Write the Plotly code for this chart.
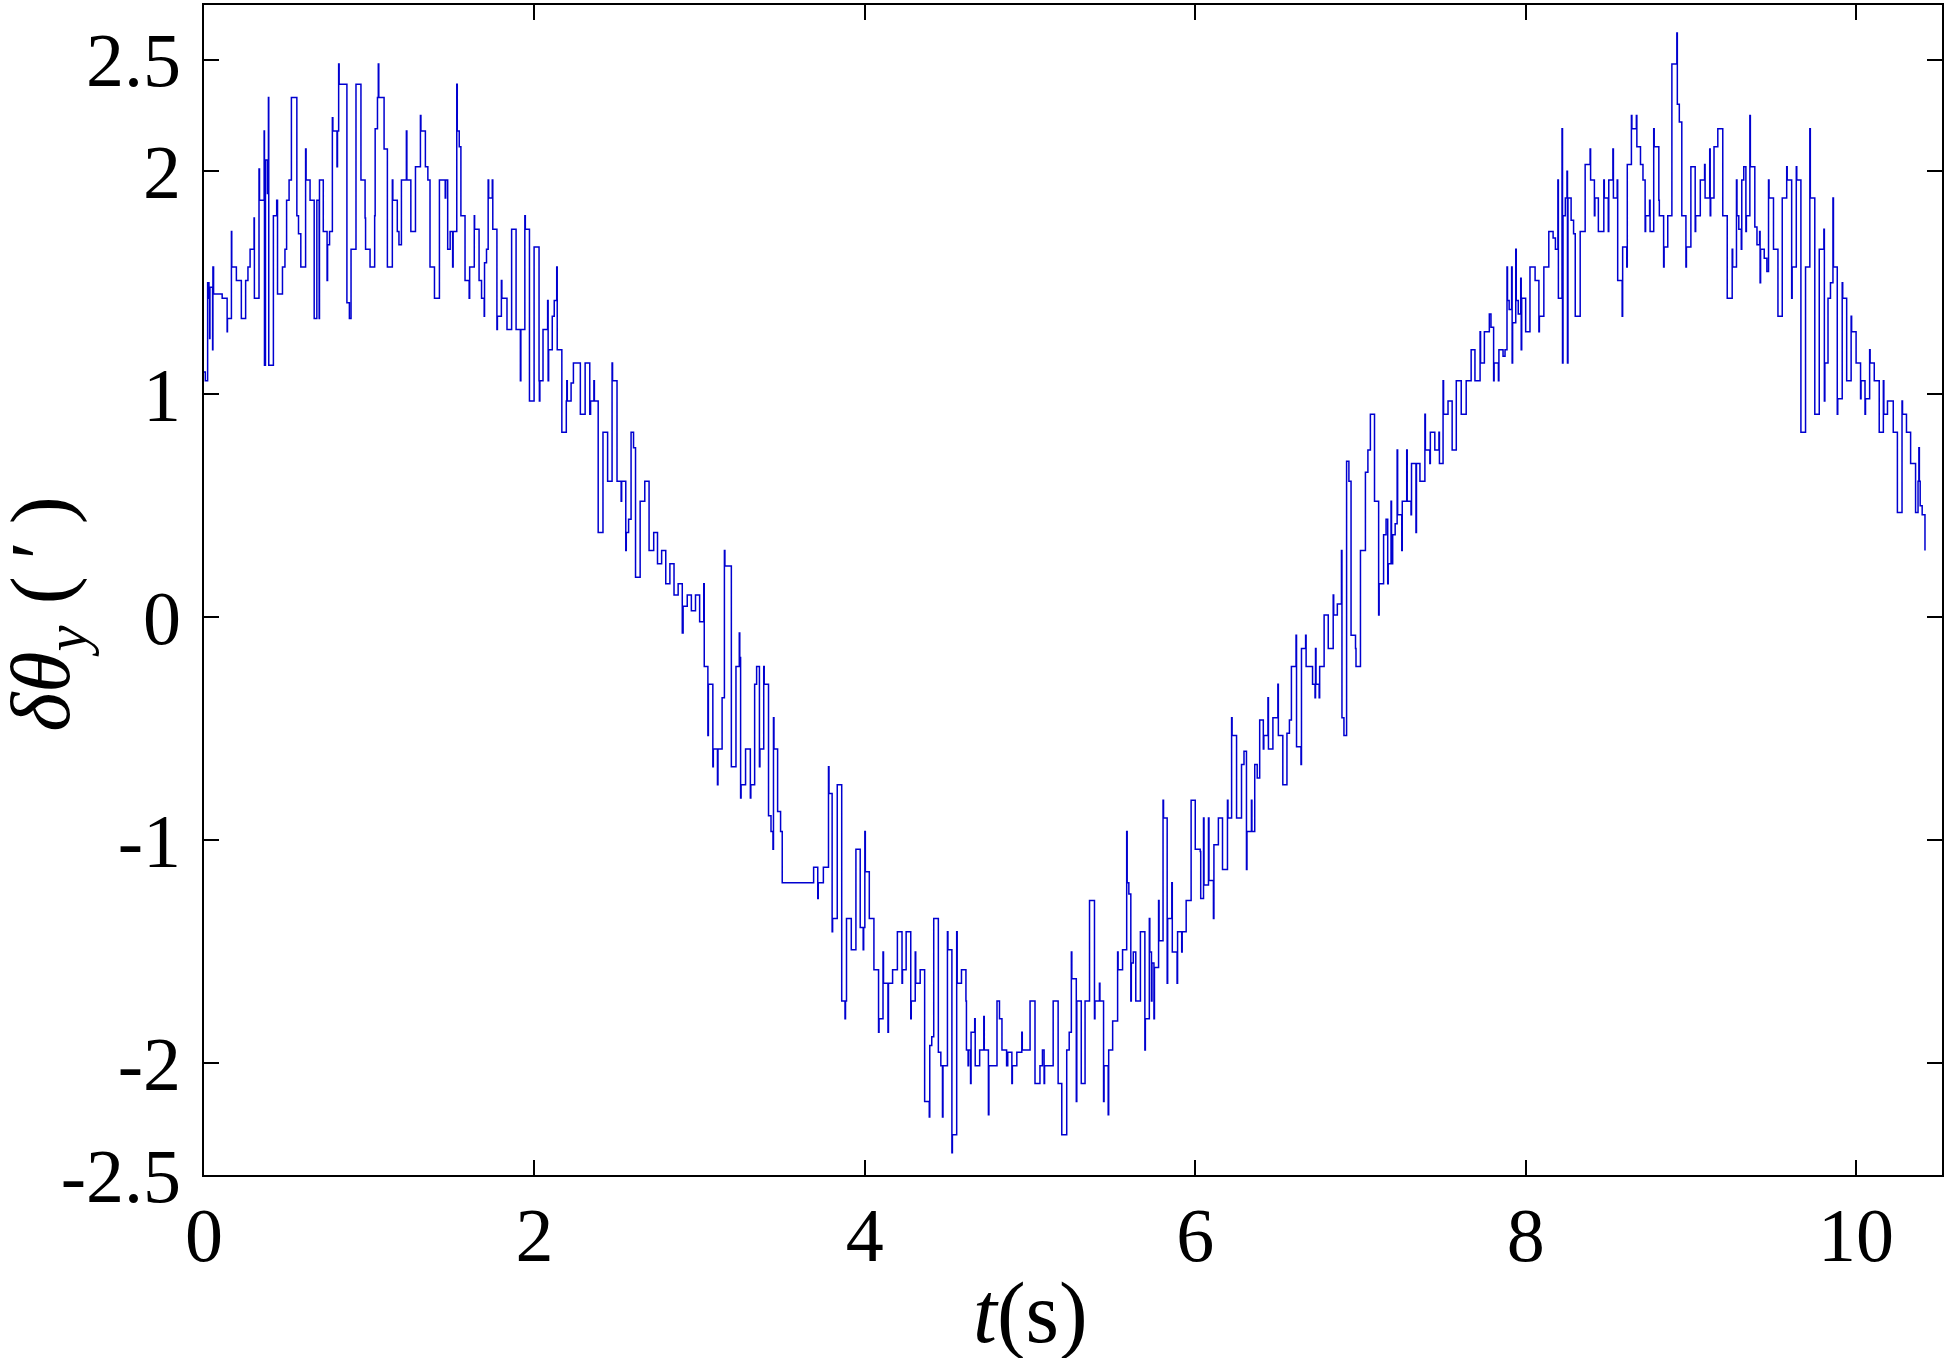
import plotly.graph_objects as go

# Samples: [time (s), delta theta_y (arcmin)], held until the next sample
seg_0_155 = [
    [0.000, 1.10], [0.008, 1.06], [0.022, 1.50], [0.030, 1.43], [0.034, 1.25], [0.036, 1.48],
    [0.052, 1.20], [0.054, 1.57], [0.058, 1.45], [0.110, 1.43], [0.140, 1.28], [0.142, 1.34],
    [0.166, 1.73], [0.168, 1.57], [0.196, 1.51], [0.226, 1.34], [0.252, 1.51], [0.266, 1.57],
    [0.279, 1.65], [0.303, 1.79], [0.305, 1.43], [0.333, 2.01], [0.336, 1.87], [0.364, 2.18],
    [0.366, 1.13], [0.372, 2.05], [0.384, 1.90], [0.390, 2.33], [0.392, 1.13], [0.420, 1.80],
    [0.440, 1.87], [0.445, 1.45], [0.475, 1.57], [0.490, 1.65], [0.500, 1.87], [0.515, 1.96],
    [0.529, 2.33], [0.562, 1.80], [0.572, 1.72], [0.586, 1.57], [0.615, 2.10], [0.618, 1.96],
    [0.642, 1.87], [0.667, 1.34], [0.683, 1.87], [0.697, 1.34], [0.699, 1.96], [0.722, 1.73],
    [0.745, 1.51], [0.748, 1.67], [0.760, 1.73], [0.777, 2.24], [0.780, 2.18], [0.805, 2.02],
    [0.808, 2.18], [0.815, 2.48], [0.818, 2.39], [0.865, 1.41], [0.880, 1.34], [0.890, 1.65],
    [0.920, 2.39], [0.950, 1.96], [0.975, 1.79], [0.978, 1.65], [1.005, 1.57], [1.033, 1.80],
    [1.036, 2.19], [1.050, 2.33], [1.055, 2.48], [1.058, 2.33], [1.090, 2.10], [1.110, 1.57],
    [1.140, 1.96], [1.143, 1.87], [1.170, 1.73], [1.180, 1.67], [1.195, 1.96], [1.225, 2.18],
    [1.228, 1.96], [1.252, 1.73], [1.280, 2.02], [1.310, 2.25], [1.313, 2.18], [1.340, 2.02],
    [1.355, 1.96], [1.368, 1.57], [1.395, 1.43], [1.425, 1.96], [1.460, 1.88], [1.463, 1.96],
    [1.475, 1.65], [1.490, 1.73], [1.505, 1.57], [1.508, 1.73], [1.530, 2.39], [1.533, 2.18],
    [1.545, 2.11], [1.555, 1.80],
]

seg_155_300 = [
    [1.580, 1.51], [1.605, 1.43], [1.608, 1.57], [1.636, 1.80], [1.638, 1.74], [1.665, 1.51],
    [1.680, 1.43], [1.696, 1.35], [1.698, 1.59], [1.710, 1.65], [1.720, 1.96], [1.723, 1.88],
    [1.745, 1.96], [1.748, 1.74], [1.773, 1.29], [1.776, 1.35], [1.800, 1.51], [1.803, 1.43],
    [1.834, 1.29], [1.862, 1.74], [1.889, 1.29], [1.915, 1.06], [1.918, 1.29], [1.942, 1.80],
    [1.945, 1.74], [1.970, 0.97], [1.998, 1.66], [2.028, 1.06], [2.030, 0.97], [2.033, 1.06],
    [2.052, 1.29], [2.080, 1.42], [2.083, 1.06], [2.086, 1.20], [2.108, 1.35], [2.120, 1.42],
    [2.135, 1.57], [2.138, 1.20], [2.166, 0.83], [2.193, 0.97], [2.196, 1.06], [2.199, 0.97],
    [2.222, 1.05], [2.236, 1.14], [2.278, 0.91], [2.307, 1.14], [2.335, 0.91], [2.340, 0.97],
    [2.360, 1.06], [2.363, 0.97], [2.386, 0.38], [2.415, 0.83], [2.443, 0.61], [2.470, 1.14],
    [2.473, 1.06], [2.500, 0.61], [2.525, 0.52], [2.528, 0.61], [2.553, 0.30], [2.556, 0.38],
    [2.570, 0.44], [2.585, 0.83], [2.600, 0.76], [2.612, 0.18], [2.640, 0.52], [2.668, 0.61],
    [2.694, 0.30], [2.722, 0.38], [2.745, 0.24], [2.770, 0.30], [2.795, 0.15], [2.820, 0.24],
    [2.845, 0.10], [2.870, 0.15], [2.895, -0.07], [2.900, 0.05], [2.925, 0.10], [2.950, 0.03],
    [2.975, 0.10], [3.000, -0.02],
]

seg_300_460 = [
    [3.025, 0.15], [3.028, -0.22], [3.050, -0.53], [3.053, -0.30], [3.080, -0.67], [3.083, -0.59],
    [3.108, -0.75], [3.111, -0.59], [3.136, -0.36], [3.150, 0.30], [3.153, 0.23], [3.192, -0.67],
    [3.220, -0.22], [3.240, -0.07], [3.243, -0.18], [3.248, -0.81], [3.251, -0.75], [3.278, -0.59],
    [3.307, -0.81], [3.310, -0.75], [3.333, -0.30], [3.345, -0.22], [3.362, -0.67], [3.365, -0.59],
    [3.388, -0.22], [3.391, -0.30], [3.417, -0.89], [3.432, -0.96], [3.444, -1.04], [3.447, -0.45],
    [3.450, -0.59], [3.472, -0.87], [3.490, -0.96], [3.500, -1.19], [3.690, -1.12], [3.715, -1.26],
    [3.718, -1.19], [3.749, -1.12], [3.780, -0.67], [3.783, -0.79], [3.802, -1.41], [3.805, -1.35],
    [3.833, -0.75], [3.860, -1.72], [3.880, -1.80], [3.883, -1.72], [3.889, -1.35], [3.918, -1.49],
    [3.946, -1.04], [3.972, -1.39], [3.990, -1.49], [3.993, -1.39], [4.000, -0.96], [4.003, -1.14],
    [4.027, -1.35], [4.055, -1.58], [4.083, -1.86], [4.086, -1.80], [4.110, -1.50], [4.113, -1.64],
    [4.140, -1.86], [4.143, -1.64], [4.168, -1.58], [4.197, -1.41], [4.225, -1.64], [4.228, -1.58],
    [4.250, -1.41], [4.278, -1.80], [4.281, -1.72], [4.305, -1.50], [4.308, -1.64], [4.335, -1.58],
    [4.362, -2.17], [4.390, -2.24], [4.393, -1.92], [4.405, -1.88], [4.417, -1.35], [4.445, -1.95],
    [4.460, -2.01], [4.470, -2.24], [4.473, -2.01], [4.500, -1.41], [4.503, -1.49], [4.527, -2.40],
    [4.530, -2.32], [4.556, -1.41], [4.559, -1.64],
]

seg_460_610 = [
    [4.585, -1.58], [4.612, -1.72], [4.615, -1.94], [4.625, -2.01], [4.628, -1.94], [4.640, -2.09],
    [4.643, -1.86], [4.665, -1.80], [4.668, -2.01], [4.695, -1.94], [4.720, -1.79], [4.723, -1.94],
    [4.748, -2.23], [4.751, -2.01], [4.800, -1.72], [4.815, -1.80], [4.830, -1.94], [4.858, -2.01],
    [4.865, -1.95], [4.890, -2.09], [4.893, -2.01], [4.920, -1.95], [4.950, -1.86], [4.953, -1.94],
    [5.000, -1.72], [5.030, -2.09], [5.060, -2.01], [5.075, -1.94], [5.085, -2.09], [5.088, -2.01],
    [5.140, -1.72], [5.170, -2.09], [5.192, -2.32], [5.222, -1.94], [5.237, -1.86], [5.250, -1.50],
    [5.253, -1.62], [5.280, -2.17], [5.283, -1.72], [5.310, -2.09], [5.333, -1.72], [5.360, -1.27],
    [5.390, -1.80], [5.393, -1.72], [5.420, -1.64], [5.423, -1.72], [5.445, -2.17], [5.448, -2.01],
    [5.473, -2.23], [5.476, -1.94], [5.500, -1.81], [5.530, -1.50], [5.533, -1.58], [5.560, -1.49],
    [5.585, -0.96], [5.588, -1.19], [5.598, -1.24], [5.610, -1.72], [5.613, -1.55], [5.625, -1.50],
    [5.640, -1.72], [5.668, -1.41], [5.695, -1.94], [5.698, -1.80], [5.722, -1.35], [5.725, -1.50],
    [5.735, -1.72], [5.738, -1.55], [5.750, -1.80], [5.753, -1.57], [5.778, -1.27], [5.781, -1.45],
    [5.805, -0.82], [5.808, -0.90], [5.830, -1.64], [5.833, -1.35], [5.858, -1.19], [5.861, -1.50],
    [5.890, -1.64], [5.893, -1.41], [5.918, -1.50], [5.921, -1.41], [5.945, -1.27], [5.975, -0.82],
    [6.000, -1.04], [6.030, -1.05], [6.033, -1.26], [6.050, -0.90], [6.053, -1.20],
]

seg_610_760 = [
    [6.080, -0.90], [6.083, -1.18], [6.110, -1.35], [6.113, -1.02], [6.140, -0.90], [6.165, -1.13],
    [6.195, -0.82], [6.198, -0.90], [6.220, -0.45], [6.223, -0.53], [6.250, -0.90], [6.280, -0.66],
    [6.295, -0.60], [6.310, -1.13], [6.313, -0.96], [6.340, -0.82], [6.343, -0.96], [6.360, -0.66],
    [6.375, -0.72], [6.390, -0.46], [6.412, -0.59], [6.415, -0.53], [6.440, -0.36], [6.443, -0.59],
    [6.470, -0.45], [6.500, -0.30], [6.503, -0.53], [6.530, -0.75], [6.555, -0.52], [6.570, -0.46],
    [6.582, -0.22], [6.610, -0.08], [6.613, -0.58], [6.640, -0.66], [6.643, -0.14], [6.668, -0.08],
    [6.671, -0.22], [6.695, -0.22], [6.710, -0.30], [6.725, -0.36], [6.728, -0.14], [6.731, -0.30],
    [6.750, -0.36], [6.753, -0.22], [6.780, 0.01], [6.805, -0.14], [6.835, 0.10], [6.838, 0.01],
    [6.860, 0.06], [6.885, 0.30], [6.888, -0.45], [6.900, -0.53], [6.916, 0.70], [6.930, 0.61],
    [6.943, -0.08], [6.970, -0.14], [6.973, -0.22], [7.000, 0.30], [7.030, 0.65], [7.045, 0.75],
    [7.060, 0.91], [7.085, 0.52], [7.110, 0.01], [7.113, 0.15], [7.140, 0.37], [7.155, 0.44],
    [7.165, 0.15], [7.168, 0.24], [7.185, 0.52], [7.188, 0.24], [7.195, 0.37], [7.210, 0.42],
    [7.222, 0.75], [7.225, 0.46], [7.250, 0.30], [7.253, 0.52], [7.280, 0.75], [7.283, 0.52],
    [7.306, 0.46], [7.309, 0.69], [7.336, 0.38], [7.339, 0.69], [7.360, 0.61], [7.390, 0.91],
    [7.393, 0.75], [7.420, 0.69], [7.423, 0.83], [7.450, 0.75], [7.475, 0.83], [7.478, 0.69],
    [7.500, 1.06], [7.503, 0.91], [7.530, 0.97], [7.555, 0.75], [7.580, 1.06],
]

seg_760_912 = [
    [7.610, 0.91], [7.640, 1.06], [7.670, 1.20], [7.693, 1.06], [7.724, 1.28], [7.727, 1.14],
    [7.750, 1.28], [7.780, 1.36], [7.790, 1.30], [7.806, 1.06], [7.809, 1.14], [7.835, 1.06],
    [7.838, 1.20], [7.863, 1.17], [7.875, 1.20], [7.887, 1.57], [7.890, 1.42], [7.900, 1.38],
    [7.915, 1.57], [7.918, 1.14], [7.921, 1.32], [7.940, 1.65], [7.943, 1.42], [7.955, 1.36],
    [7.970, 1.52], [7.973, 1.20], [7.976, 1.43], [8.000, 1.28], [8.026, 1.57], [8.057, 1.51],
    [8.080, 1.28], [8.083, 1.35], [8.110, 1.57], [8.140, 1.73], [8.166, 1.70], [8.180, 1.65],
    [8.195, 1.96], [8.198, 1.43], [8.220, 2.19], [8.223, 1.14], [8.226, 1.80], [8.240, 1.88],
    [8.250, 2.00], [8.253, 1.14], [8.256, 1.88], [8.275, 1.78], [8.290, 1.72], [8.300, 1.35],
    [8.330, 1.73], [8.360, 2.03], [8.390, 2.10], [8.393, 1.96], [8.416, 1.80], [8.419, 1.88],
    [8.440, 1.73], [8.473, 1.96], [8.476, 1.88], [8.500, 1.73], [8.503, 1.96], [8.528, 2.10],
    [8.531, 1.88], [8.554, 1.96], [8.557, 1.51], [8.584, 1.35], [8.587, 1.66], [8.612, 1.57],
    [8.615, 2.03], [8.640, 2.25], [8.643, 2.19], [8.670, 2.25], [8.673, 2.11], [8.695, 2.03],
    [8.710, 1.96], [8.723, 1.73], [8.726, 1.80], [8.750, 1.87], [8.753, 1.73], [8.775, 2.19],
    [8.778, 2.11], [8.806, 1.87], [8.809, 1.80], [8.835, 1.57], [8.838, 1.66], [8.860, 1.80],
    [8.885, 2.48], [8.915, 2.62], [8.918, 2.30], [8.930, 2.22], [8.945, 1.80], [8.970, 1.57],
    [8.973, 1.66], [9.000, 2.02], [9.026, 1.73], [9.029, 1.80], [9.057, 1.96], [9.083, 2.03],
    [9.086, 1.88], [9.114, 2.10], [9.117, 1.80], [9.120, 1.88],
]

seg_912_end = [
    [9.140, 2.11], [9.163, 2.19], [9.193, 1.80], [9.220, 1.43], [9.250, 1.65], [9.253, 1.57],
    [9.276, 1.96], [9.279, 1.80], [9.290, 1.74], [9.305, 1.65], [9.308, 1.96], [9.320, 2.02],
    [9.333, 1.73], [9.336, 1.80], [9.357, 2.25], [9.360, 2.02], [9.387, 1.75], [9.400, 1.67],
    [9.416, 1.73], [9.419, 1.50], [9.422, 1.65], [9.444, 1.61], [9.460, 1.55], [9.470, 1.96],
    [9.473, 1.88], [9.500, 1.65], [9.527, 1.35], [9.553, 1.88], [9.580, 2.02], [9.583, 1.96],
    [9.610, 1.43], [9.613, 1.57], [9.638, 2.02], [9.641, 1.96], [9.666, 0.83], [9.694, 1.57],
    [9.720, 2.19], [9.723, 1.88], [9.750, 0.91], [9.777, 1.65], [9.805, 1.74], [9.808, 0.97],
    [9.811, 1.14], [9.830, 1.43], [9.845, 1.50], [9.860, 1.88], [9.863, 1.57], [9.886, 0.91],
    [9.889, 0.98], [9.916, 1.50], [9.919, 1.43], [9.943, 1.06], [9.970, 1.35], [9.973, 1.28],
    [10.000, 1.14], [10.027, 0.98], [10.030, 1.06], [10.054, 0.91], [10.057, 0.98], [10.082, 1.20],
    [10.085, 1.14], [10.110, 1.06], [10.140, 0.83], [10.165, 1.06], [10.168, 0.91], [10.190, 0.97],
    [10.225, 0.83], [10.250, 0.47], [10.278, 0.97], [10.281, 0.91], [10.305, 0.83], [10.330, 0.69],
    [10.360, 0.47], [10.375, 0.61], [10.380, 0.76], [10.383, 0.61], [10.388, 0.50], [10.400, 0.46],
    [10.417, 0.30],
]

x_ticks = [0, 2, 4, 6, 8, 10]
y_ticks = [-2.5, -2, -1, 0, 1, 2, 2.5]
y_tick_text = ["-2.5", "-2", "-1", "0", "1", "2", "2.5"]

segments = [seg_0_155, seg_155_300, seg_300_460, seg_460_610, seg_610_760, seg_760_912, seg_912_end]
t_s = [p[0] for seg in segments for p in seg]
d_theta = [p[1] for seg in segments for p in seg]

FONT = "Liberation Serif, Times New Roman, serif"

fig = go.Figure()
fig.add_trace(go.Scatter(
    x=t_s, y=d_theta, mode="lines",
    line=dict(color="#0000d0", width=1.5, shape="hv"),
    showlegend=False, hoverinfo="x+y",
))

axis_common = dict(
    showline=True, linecolor="black", linewidth=1.5, mirror="ticks",
    ticks="inside", ticklen=15, tickwidth=1.5, tickcolor="black",
    showgrid=False, zeroline=False, automargin=False,
    tickfont=dict(family=FONT, size=76, color="black"),
)

fig.update_xaxes(range=[0, 10.52], tickvals=x_ticks,
                 ticktext=[str(v) for v in x_ticks], ticklabelstandoff=-7, **axis_common)
fig.update_yaxes(range=[-2.5, 2.745], tickvals=y_ticks, ticktext=y_tick_text,
                 ticklabelstandoff=6, **axis_common)

fig.add_annotation(
    text="<i>t</i>(s)", xref="paper", yref="paper", x=0.4757, y=-0.118,
    xanchor="center", yanchor="middle", showarrow=False,
    font=dict(family=FONT, size=86, color="black"),
)
fig.add_annotation(
    text="<i>δθ</i><sub><i>y</i></sub> (\u2009′\u2009)", xref="paper", yref="paper",
    x=-0.0905, y=0.4795, xanchor="center", yanchor="middle", textangle=-90,
    showarrow=False, font=dict(family=FONT, size=84, color="black"),
)

fig.update_layout(
    width=1944, height=1358,
    margin=dict(l=204, r=2, t=5, b=183, autoexpand=False),
    paper_bgcolor="white", plot_bgcolor="white",
    font=dict(family=FONT, color="black"),
)

fig.write_html(
    "out.html",
    config={"displayModeBar": False},
    post_script="document.body.style.margin='0';document.body.style.overflow='hidden';",
)
